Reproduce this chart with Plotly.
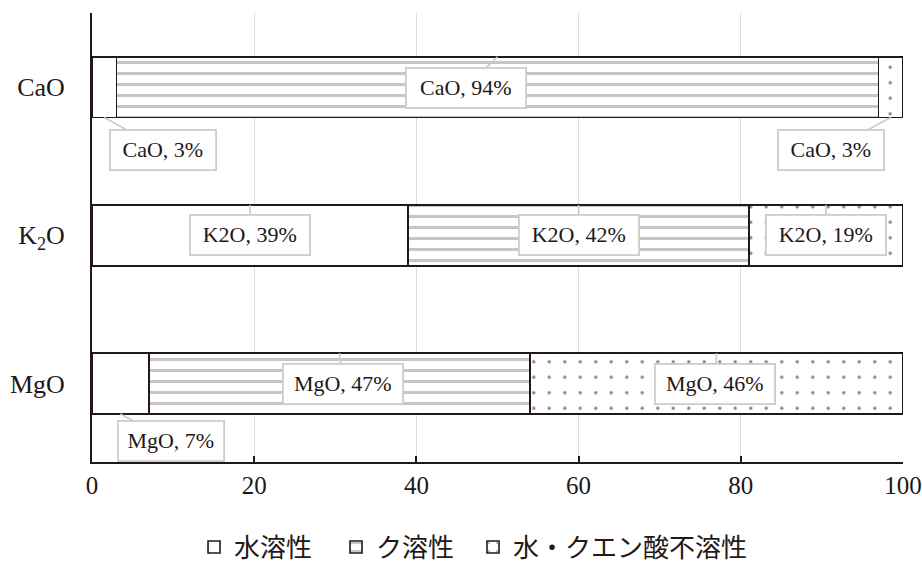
import plotly.graph_objects as go

# Share of each nutrient by solubility class (%)
categories = ["CaO", "K2O", "MgO"]
category_ticktext = ["CaO", "K<sub>2</sub>O", "MgO"]
water_soluble = [3, 39, 7]
citrate_soluble = [94, 42, 47]
insoluble = [3, 19, 46]

series_names = ["水溶性", "ク溶性", "水・クエン酸不溶性"]
series_values = [water_soluble, citrate_soluble, insoluble]

INK = "#231815"
SERIF = "Liberation Serif, Times New Roman, serif"
CJK = "Noto Sans CJK JP, sans-serif"

patterns = [
    dict(shape="", bgcolor="white"),
    dict(shape="-", size=11, solidity=0.28, fgcolor="#8e8e8e", bgcolor="white", fillmode="overlay"),
    dict(shape=".", size=15.5, solidity=0.035, fgcolor="#000000", bgcolor="white", fillmode="overlay"),
]

# each series gets its own legend box so the entries can be spaced freely
legend_ids = ["legend", "legend2", "legend3"]
legend_x = [0.1258, 0.3009, 0.4698]

BARGAP = 0.59
half_bar = (1 - BARGAP) / 2

fig = go.Figure()
for name, vals, pat, lid in zip(series_names, series_values, patterns, legend_ids):
    fig.add_trace(go.Bar(
        y=categories, x=vals, name=name, orientation="h",
        marker=dict(color="white", pattern=pat, line=dict(color=INK, width=1.6)),
        hoverinfo="skip", legend=lid,
    ))

# Callout placement: which bar edge the pointer meets and the label offset (px)
callout = {
    ("CaO", 0): ("bottom", 59, 32),
    ("CaO", 1): ("top", -32, 31),
    ("CaO", 2): ("bottom", -60, 32),
    ("K2O", 0): ("top", 0, 30),
    ("K2O", 1): ("top", 0, 30),
    ("K2O", 2): ("top", 0, 30),
    ("MgO", 0): ("bottom", 51, 27),
    ("MgO", 1): ("top", 4, 31),
    ("MgO", 2): ("top", -1, 31),
}
order = ["MgO", "K2O", "CaO"]  # bottom to top

annotations = []
for ci, cat in enumerate(categories):
    start = 0
    for si, vals in enumerate(series_values):
        v = vals[ci]
        centre = start + v / 2
        start += v
        edge, ax, ay = callout[(cat, si)]
        pos = order.index(cat)
        y_tip = pos + half_bar if edge == "top" else pos - half_bar
        text = f"{cat}, {v}%"
        annotations.append(dict(
            x=centre, y=y_tip, xref="x", yref="y",
            text=text, showarrow=True, ax=ax, ay=ay,
            arrowhead=0, arrowwidth=1.6, arrowcolor="#c9c9c9", standoff=0,
            bgcolor="white", bordercolor="#cccccc", borderwidth=1.8,
            width=14 * len(text), height=32, borderpad=3,
            font=dict(family=SERIF, size=22, color=INK),
        ))

legend_style = dict(orientation="h", xanchor="left", yref="container", y=0.03,
                    yanchor="middle", font=dict(family=CJK, size=26, color=INK),
                    itemwidth=30, bgcolor="rgba(0,0,0,0)")

fig.update_layout(
    width=922, height=564,
    margin=dict(l=92, r=19, t=13, b=102, autoexpand=False),
    barmode="stack", bargap=BARGAP,
    plot_bgcolor="white", paper_bgcolor="white",
    showlegend=True,
    annotations=annotations,
    xaxis=dict(range=[0, 100], tickvals=[0, 20, 40, 60, 80, 100],
               showgrid=True, gridcolor="#dcdcdc", gridwidth=1.2,
               showline=True, linecolor=INK, linewidth=2,
               ticks="inside", ticklen=6, tickwidth=2, tickcolor=INK,
               zeroline=False, automargin=False,
               tickfont=dict(family=SERIF, size=25, color=INK)),
    yaxis=dict(categoryorder="array", categoryarray=order,
               tickvals=categories, ticktext=category_ticktext,
               showline=True, linecolor=INK, linewidth=2,
               showgrid=False, ticks="", ticklabelstandoff=20, automargin=False,
               tickfont=dict(family=SERIF, size=26, color=INK)),
)
for lid, lx in zip(legend_ids, legend_x):
    fig.update_layout({lid: dict(legend_style, x=lx)})

fig.write_html("out.html")
